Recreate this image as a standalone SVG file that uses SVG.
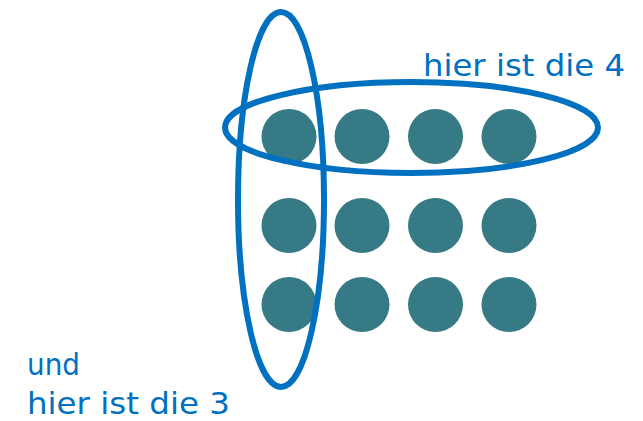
<svg xmlns="http://www.w3.org/2000/svg" width="643" height="421" viewBox="0 0 643 421">
<style>
.dot{fill:#357a84}
.ring{fill:none;stroke:#0070c0;stroke-width:6}
.lbl{font-family:"DejaVu Sans","Noto Sans",sans-serif;font-size:31px;fill:#0070c0}
</style>
<rect width="643" height="421" fill="#fff"/>
<g id="dots">
<circle class="dot" cx="289" cy="136.5" r="27.5"/>
<circle class="dot" cx="362" cy="136.5" r="27.5"/>
<circle class="dot" cx="435.5" cy="136.5" r="27.5"/>
<circle class="dot" cx="509" cy="136.5" r="27.5"/>
<circle class="dot" cx="289" cy="225.5" r="27.5"/>
<circle class="dot" cx="362" cy="225.5" r="27.5"/>
<circle class="dot" cx="435.5" cy="225.5" r="27.5"/>
<circle class="dot" cx="509" cy="225.5" r="27.5"/>
<circle class="dot" cx="289" cy="304.5" r="27.5"/>
<circle class="dot" cx="362" cy="304.5" r="27.5"/>
<circle class="dot" cx="435.5" cy="304.5" r="27.5"/>
<circle class="dot" cx="509" cy="304.5" r="27.5"/>
</g>
<g id="rings">
<ellipse id="row-ring" class="ring" cx="411.5" cy="127.5" rx="186.5" ry="45.5"/>
<ellipse id="col-ring" class="ring" cx="281" cy="199.5" rx="43" ry="187.5"/>
</g>
<g id="labels">
<text class="lbl" x="423" y="76" textLength="202" lengthAdjust="spacingAndGlyphs">hier ist die 4</text>
<text class="lbl" x="27" y="375" textLength="53" lengthAdjust="spacingAndGlyphs">und</text>
<text class="lbl" x="27" y="414" textLength="203" lengthAdjust="spacingAndGlyphs">hier ist die 3</text>
</g>
</svg>
